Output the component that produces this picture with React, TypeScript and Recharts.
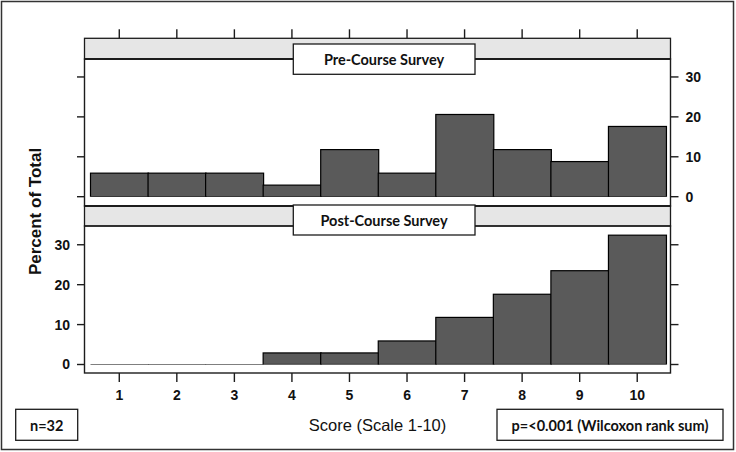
import React from 'react';
import { BarChart, Bar, XAxis, YAxis } from 'recharts';

// ---- data ----
const scores = ['1', '2', '3', '4', '5', '6', '7', '8', '9', '10'];
const preCourse = [5.9, 5.9, 5.9, 2.9, 11.8, 5.9, 20.6, 11.8, 8.8, 17.6];
const postCourse = [0, 0, 0, 2.9, 2.9, 5.9, 11.8, 17.6, 23.5, 32.4];
const yTicks = [0, 10, 20, 30];
const preTitle = 'Pre-Course Survey';
const postTitle = 'Post-Course Survey';
const yTitle = 'Percent of Total';
const xTitle = 'Score (Scale 1-10)';
const nText = 'n=32';
const pText = 'p=<0.001 (Wilcoxon rank sum)';

const preData = scores.map((s, i) => ({ score: s, pct: preCourse[i] }));
const postData = scores.map((s, i) => ({ score: s, pct: postCourse[i] }));

// ---- style ----
const W = 736;
const H = 452;
const BAR_FILL = '#5a5a5a';
const INK = '#1c1c1c';
const STRIP = '#e6e6e6';
const PANEL_L = 84.5;
const PANEL_R = 670.5;
const SANS = '"Liberation Sans", Arial, sans-serif';
const CAL = 'Lato, "Open Sans", sans-serif';

const BarShape = (props: any) => {
  const { x, y, width, height } = props;
  if (!height || Math.abs(height) < 0.5) {
    return <line x1={x} x2={x + width} y1={y} y2={y} stroke="#000" strokeWidth={1.2} />;
  }
  return <rect x={x} y={y} width={width} height={height} fill={BAR_FILL} stroke="#000" strokeWidth={1.2} />;
};

const TopTick = (props: any) => {
  const { x } = props;
  return <line x1={x} x2={x} y1={29.3} y2={38.3} stroke={INK} strokeWidth={1.4} />;
};

const EmptyTick = () => <g />;

const tickStyle = { fontSize: 14, fontWeight: 'bold' as const, fill: '#111', fontFamily: SANS };

export default function App() {
  return (
    <div style={{ position: 'absolute', left: 0, top: 0, width: W, height: H, background: '#fff', fontFamily: SANS }}>
      {/* top panel */}
      <div style={{ position: 'absolute', left: 0, top: 0 }}>
        <BarChart
          width={W}
          height={H}
          data={preData}
          margin={{ top: 29, bottom: H - 205.7, left: PANEL_L - 20, right: W - PANEL_R - 40 }}
          barCategoryGap={0}
          barGap={0}
        >
          <XAxis
            dataKey="score"
            orientation="top"
            height={30}
            axisLine={false}
            tickLine={false}
            tick={<TopTick />}
            interval={0}
            padding={{ left: 6, right: 4.5 }}
          />
          <YAxis
            yAxisId="l"
            orientation="left"
            width={20}
            domain={[0, 34.5]}
            allowDataOverflow
            ticks={yTicks}
            interval={0}
            padding={{ top: 0, bottom: 9 }}
            axisLine={false}
            tickSize={7.5}
            tick={<EmptyTick />}
            tickLine={{ stroke: INK, strokeWidth: 1.4 }}
          />
          <YAxis
            yAxisId="r"
            orientation="right"
            width={40}
            domain={[0, 34.5]}
            allowDataOverflow
            ticks={yTicks}
            interval={0}
            padding={{ top: 0, bottom: 9 }}
            axisLine={false}
            tickSize={8}
            tickMargin={7}
            tick={tickStyle}
            tickLine={{ stroke: INK, strokeWidth: 1.4 }}
          />
          <Bar yAxisId="l" dataKey="pct" isAnimationActive={false} shape={<BarShape />} />
        </BarChart>
      </div>

      {/* bottom panel */}
      <div style={{ position: 'absolute', left: 0, top: 0 }}>
        <BarChart
          width={W}
          height={H}
          data={postData}
          margin={{ top: 226, bottom: H - 373 - 30, left: PANEL_L - 30, right: W - PANEL_R - 20 }}
          barCategoryGap={0}
          barGap={0}
        >
          <XAxis
            dataKey="score"
            orientation="bottom"
            height={30}
            axisLine={false}
            tickSize={9}
            tickMargin={8}
            tick={tickStyle}
            tickLine={{ stroke: INK, strokeWidth: 1.4 }}
            interval={0}
            padding={{ left: 6, right: 4.5 }}
          />
          <YAxis
            yAxisId="l"
            orientation="left"
            width={30}
            domain={[0, 34.7]}
            allowDataOverflow
            ticks={yTicks}
            interval={0}
            padding={{ top: 0, bottom: 8.5 }}
            axisLine={false}
            tickSize={7.5}
            tickMargin={7}
            tick={tickStyle}
            tickLine={{ stroke: INK, strokeWidth: 1.4 }}
          />
          <YAxis
            yAxisId="r"
            orientation="right"
            width={20}
            domain={[0, 34.7]}
            allowDataOverflow
            ticks={yTicks}
            interval={0}
            padding={{ top: 0, bottom: 8.5 }}
            axisLine={false}
            tickSize={8}
            tick={<EmptyTick />}
            tickLine={{ stroke: INK, strokeWidth: 1.4 }}
          />
          <Bar yAxisId="l" dataKey="pct" isAnimationActive={false} shape={<BarShape />} />
        </BarChart>
      </div>

      {/* decorations: frames, strips, labels */}
      <svg width={W} height={H} style={{ position: 'absolute', left: 0, top: 0, pointerEvents: 'none' }}>
        <rect x={1.5} y={1.5} width={732} height={448} fill="none" stroke="#333" strokeWidth={1.5} />

        {/* top strip + panel */}
        <rect x={PANEL_L} y={38.3} width={PANEL_R - PANEL_L} height={20.7} fill={STRIP} stroke={INK} strokeWidth={1.3} />
        <rect x={PANEL_L} y={59} width={PANEL_R - PANEL_L} height={147} fill="none" stroke={INK} strokeWidth={1.4} />
        <line x1={PANEL_L} x2={PANEL_R} y1={59} y2={59} stroke={INK} strokeWidth={2.2} />
        <rect x={293.3} y={44} width={181.7} height={30.3} fill="#fff" stroke={INK} strokeWidth={1.3} />
        <text x={384} y={59.5} textAnchor="middle" dominantBaseline="central" fontFamily={CAL} fontWeight="bold" fontSize={14.5} fill="#111">
          {preTitle}
        </text>

        {/* bottom strip + panel */}
        <rect x={PANEL_L} y={206} width={PANEL_R - PANEL_L} height={20} fill={STRIP} stroke={INK} strokeWidth={1.3} />
        <line x1={PANEL_L} x2={PANEL_R} y1={206} y2={206} stroke={INK} strokeWidth={2.2} />
        <rect x={PANEL_L} y={226} width={PANEL_R - PANEL_L} height={147} fill="none" stroke={INK} strokeWidth={1.4} />
        <rect x={293.3} y={205} width={181.7} height={30} fill="#fff" stroke={INK} strokeWidth={1.3} />
        <text x={384} y={220.3} textAnchor="middle" dominantBaseline="central" fontFamily={CAL} fontWeight="bold" fontSize={14.5} fill="#111">
          {postTitle}
        </text>

        {/* axis titles */}
        <text
          x={35}
          y={211.5}
          transform="rotate(-90 35 211.5)"
          textAnchor="middle"
          dominantBaseline="central"
          fontFamily={SANS}
          fontWeight="bold"
          fontSize={17}
          fill="#111"
        >
          {yTitle}
        </text>
        <text x={377.5} y={424.5} textAnchor="middle" dominantBaseline="central" fontFamily={SANS} fontSize={16.5} fill="#111">
          {xTitle}
        </text>

        {/* annotation boxes */}
        <rect x={15.7} y={409.3} width={62} height={31} fill="#fff" stroke={INK} strokeWidth={1.3} />
        <text x={46.7} y={425} textAnchor="middle" dominantBaseline="central" fontFamily={CAL} fontWeight="bold" fontSize={14.5} fill="#111">
          {nText}
        </text>
        <rect x={497} y={409.3} width={226} height={31} fill="#fff" stroke={INK} strokeWidth={1.3} />
        <text x={610} y={425} textAnchor="middle" dominantBaseline="central" fontFamily={CAL} fontWeight="bold" fontSize={14.5} fill="#111">
          {pText}
        </text>
      </svg>
    </div>
  );
}
